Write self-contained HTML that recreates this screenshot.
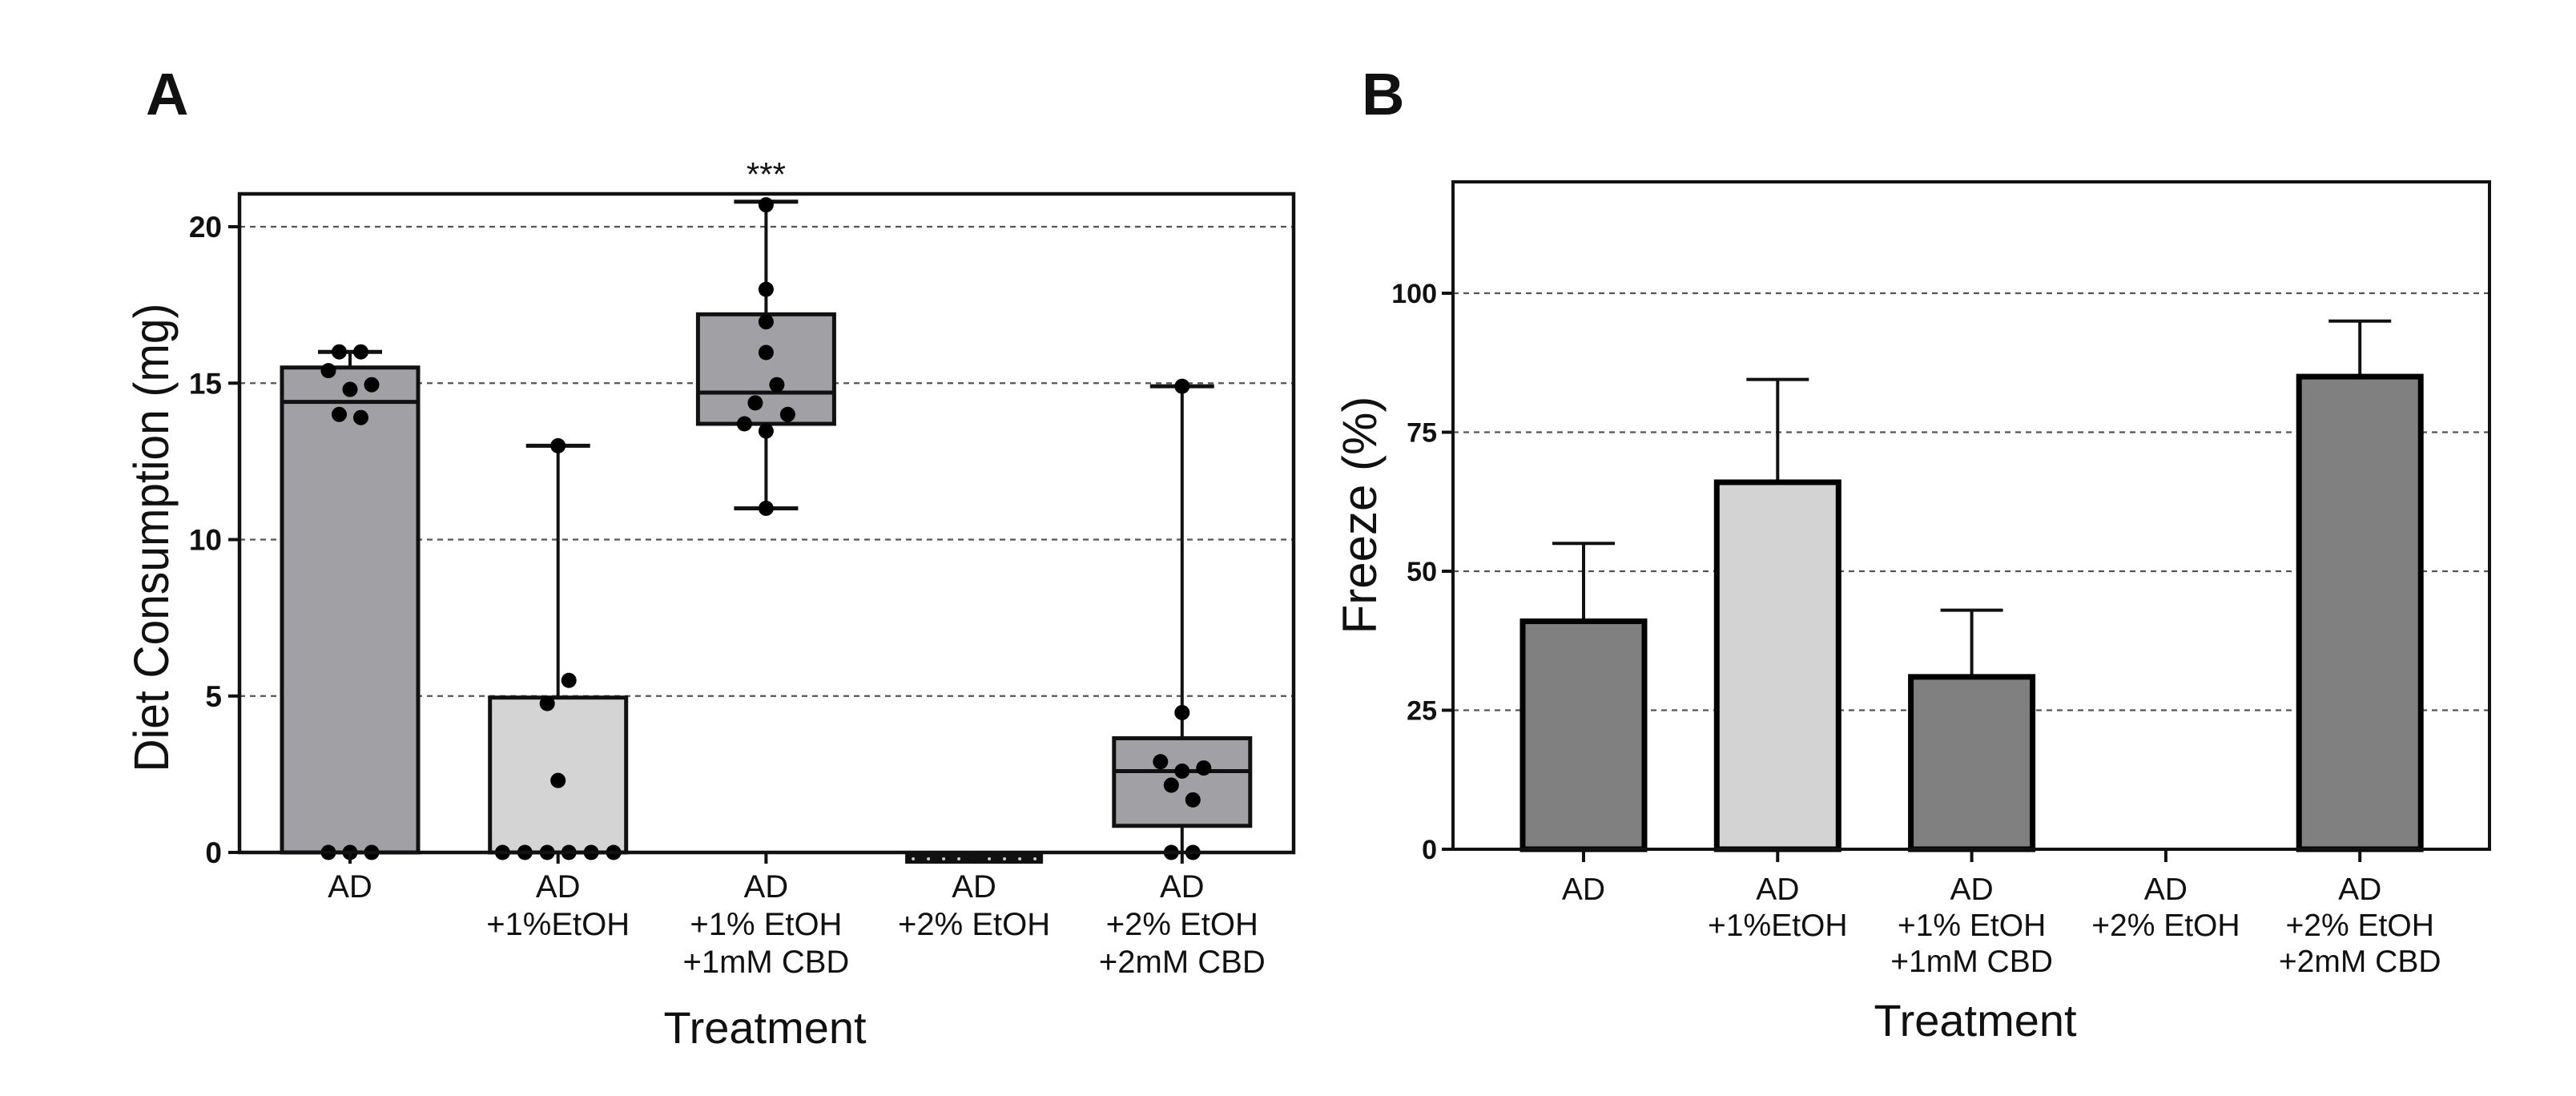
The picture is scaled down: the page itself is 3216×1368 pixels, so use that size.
<!DOCTYPE html>
<html>
<head>
<meta charset="utf-8">
<style>
html,body{margin:0;padding:0;background:#fff;}
svg{display:block;}
text{font-family:"Liberation Sans",Arial,sans-serif;fill:#111;}
</style>
</head>
<body>
<svg id="fig" width="3216" height="1368" viewBox="0 0 3216 1368" xmlns="http://www.w3.org/2000/svg">
  <text x="182" y="143" font-size="74" font-weight="bold">A</text>
  <text x="1700" y="143" font-size="74" font-weight="bold">B</text>
  <g id="chartA"></g>
  <g id="chartB"></g>
</svg>
<script>
// ---------- Panel A data ----------
const catsA = [["AD"],["AD","+1%EtOH"],["AD","+1% EtOH","+1mM CBD"],["AD","+2% EtOH"],["AD","+2% EtOH","+2mM CBD"]];
const boxLow = [0, 0, 13.7, 0, 0.85];
const boxHigh = [15.5, 4.95, 17.2, 0.0, 3.65];
const medians = [14.4, 0, 14.7, 0, 2.6];
const whiskMin = [0, 0, 11, 0, 0];
const whiskMax = [16, 13, 20.8, 0, 14.9];
const pointsA = [
  [[-0.15,16],[0.15,16],[-0.3,15.4],[0,14.8],[0.3,14.95],[-0.15,14.0],[0.15,13.9],[-0.3,0],[0,0],[0.3,0]],
  [[0,13],[0.15,5.5],[-0.15,4.76],[0,2.3],[-0.77,0],[-0.46,0],[-0.15,0],[0.15,0],[0.46,0],[0.77,0]],
  [[0,20.7],[0,18],[0,16.96],[0,15.98],[0.15,14.95],[-0.15,14.37],[-0.3,13.7],[0,13.47],[0.3,14.0],[0,11]],
  [],
  [[0,14.9],[0,4.47],[-0.3,2.9],[0,2.6],[0.3,2.7],[-0.15,2.15],[0.15,1.68],[-0.15,0],[0.15,0]]
];
const zeroGroupCount = [0,0,0,9,0];
const ticksA = [0,5,10,15,20];
const fillA = ["#a0a0a5","#d4d4d4","#a0a0a5","#a0a0a5","#a0a0a5"];

// ---------- Panel B data ----------
const catsB = catsA;
const barVals = [41, 66, 31, 0, 85];
const errTop = [55, 84.5, 43, 0, 95];
const ticksB = [0,25,50,75,100];
const fillB = ["#808080","#d3d3d3","#808080","#808080","#808080"];

const NS = "http://www.w3.org/2000/svg";
function mk(tag, attrs, parent){
  const e = document.createElementNS(NS, tag);
  for (const k in attrs) e.setAttribute(k, attrs[k]);
  parent.appendChild(e);
  return e;
}

// ---------- Panel A ----------
(function(){
  const g = document.getElementById('chartA');
  const L=299, R=1615, T=242, Y0=1064, Y20=283;
  const y = v => Y0 - (Y0-Y20)*v/20;
  const x = i => 437 + i*259.7;
  const bw = 170;
  ticksA.forEach(t=>{
    if (t>0){
      const gl = mk('line',{x1:L,x2:R,y1:y(t),y2:y(t),stroke:'#555','stroke-width':2.2,'stroke-dasharray':'7,6'},g);
      
      
    }
    const tk = mk('line',{x1:L-14,x2:L,y1:y(t),y2:y(t),stroke:'#111','stroke-width':4},g);
    
    
    const tl = mk('text',{x:L-22,y:y(t)+13,'font-size':37,'font-weight':'bold','text-anchor':'end'},g);
    tl.textContent = t;
    
    
  });
  catsA.forEach((c,i)=>{
    const cx = x(i);
    if (whiskMax[i] > whiskMin[i]){
      const w = mk('line',{x1:cx,x2:cx,y1:y(whiskMin[i]),y2:y(whiskMax[i]),stroke:'#111','stroke-width':4},g);
      
      
      const cap = mk('line',{x1:cx-40,x2:cx+40,y1:y(whiskMax[i]),y2:y(whiskMax[i]),stroke:'#111','stroke-width':5},g);
      
      
      if (whiskMin[i] > 0){
        const cap2 = mk('line',{x1:cx-40,x2:cx+40,y1:y(whiskMin[i]),y2:y(whiskMin[i]),stroke:'#111','stroke-width':5},g);
        
        
      }
    }
    if (boxHigh[i] > boxLow[i]){
      const b = mk('rect',{x:cx-bw/2,y:y(boxHigh[i]),width:bw,height:y(boxLow[i])-y(boxHigh[i]),fill:fillA[i],stroke:'#111','stroke-width':5},g);
      
      
      const m = mk('line',{x1:cx-bw/2,x2:cx+bw/2,y1:y(medians[i]),y2:y(medians[i]),stroke:'#111','stroke-width':5},g);
      
      
    }
    pointsA[i].forEach((p,j)=>{
      const d = mk('circle',{cx:cx+p[0]*90,cy:y(p[1]),r:9.5,fill:'#000'},g);
      
      
    });
    if (zeroGroupCount[i]>0){
      const zb = mk('rect',{x:cx-86,y:y(0)+1,width:172,height:13,fill:'#111'},g);
      
      
      for (let k=0;k<zeroGroupCount[i];k++){
        const zd = mk('circle',{cx:cx-76+k*19,cy:y(0)+8,r:2,fill:'#ccc'},g);
        
        
      }
    }
    const xt = mk('line',{x1:cx,x2:cx,y1:Y0,y2:Y0+14,stroke:'#111','stroke-width':4},g);
    
    
    c.forEach((ln,k)=>{
      const t = mk('text',{x:cx,y:1120+k*47,'font-size':40,'text-anchor':'middle'},g);
      t.textContent = ln;
      
      
    });
  });
  const fr = mk('rect',{x:L,y:T,width:R-L,height:Y0-T,fill:'none',stroke:'#111','stroke-width':4.5},g);
  
  
  const sig = mk('text',{x:x(2),y:232,'font-size':42,'text-anchor':'middle'},g);
  sig.textContent = '***';
  
  
  const yt = mk('text',{x:0,y:0,'font-size':61,'text-anchor':'middle',textLength:585,lengthAdjust:'spacingAndGlyphs',transform:'translate(210,671) rotate(-90)'},g);
  yt.textContent = 'Diet Consumption (mg)';
  
  
  const xtt = mk('text',{x:955,y:1302,'font-size':56,'text-anchor':'middle'},g);
  xtt.textContent = 'Treatment';
  
  
})();

// ---------- Panel B ----------
(function(){
  const g = document.getElementById('chartB');
  const L=1814, R=3108, T=227, Y0=1060, Y100=366;
  const y = v => Y0 - (Y0-Y100)*v/100;
  const x = i => 1977 + i*242.3;
  const bw = 152;
  ticksB.forEach(t=>{
    if (t>0){
      const gl = mk('line',{x1:L,x2:R,y1:y(t),y2:y(t),stroke:'#555','stroke-width':2.2,'stroke-dasharray':'7,6'},g);
      
      
    }
    const tk = mk('line',{x1:L-14,x2:L,y1:y(t),y2:y(t),stroke:'#111','stroke-width':4},g);
    
    
    const tl = mk('text',{x:L-20,y:y(t)+12,'font-size':34,'font-weight':'bold','text-anchor':'end'},g);
    tl.textContent = t;
    
    
  });
  catsB.forEach((c,i)=>{
    const cx = x(i);
    if (barVals[i] > 0){
      const e = mk('line',{x1:cx,x2:cx,y1:y(barVals[i]),y2:y(errTop[i]),stroke:'#111','stroke-width':4},g);
      
      
      const cap = mk('line',{x1:cx-39,x2:cx+39,y1:y(errTop[i]),y2:y(errTop[i]),stroke:'#111','stroke-width':4},g);
      
      
      const b = mk('rect',{x:cx-bw/2,y:y(barVals[i]),width:bw,height:y(0)-y(barVals[i]),fill:fillB[i],stroke:'#000','stroke-width':7},g);
      
      
    }
    const xt = mk('line',{x1:cx,x2:cx,y1:Y0,y2:Y0+16,stroke:'#111','stroke-width':4},g);
    
    
    c.forEach((ln,k)=>{
      const t = mk('text',{x:cx,y:1123+k*45,'font-size':39,'text-anchor':'middle'},g);
      t.textContent = ln;
      
      
    });
  });
  const fr = mk('rect',{x:L,y:T,width:R-L,height:Y0-T,fill:'none',stroke:'#111','stroke-width':4},g);
  
  
  const yt = mk('text',{x:0,y:0,'font-size':60,'text-anchor':'middle',transform:'translate(1718,643) rotate(-90)'},g);
  yt.textContent = 'Freeze  (%)';
  yt.setAttribute('xml:space','preserve');
  
  
  const xtt = mk('text',{x:2466,y:1293,'font-size':56,'text-anchor':'middle'},g);
  xtt.textContent = 'Treatment';
  
  
})();
</script>
</body>
</html>
